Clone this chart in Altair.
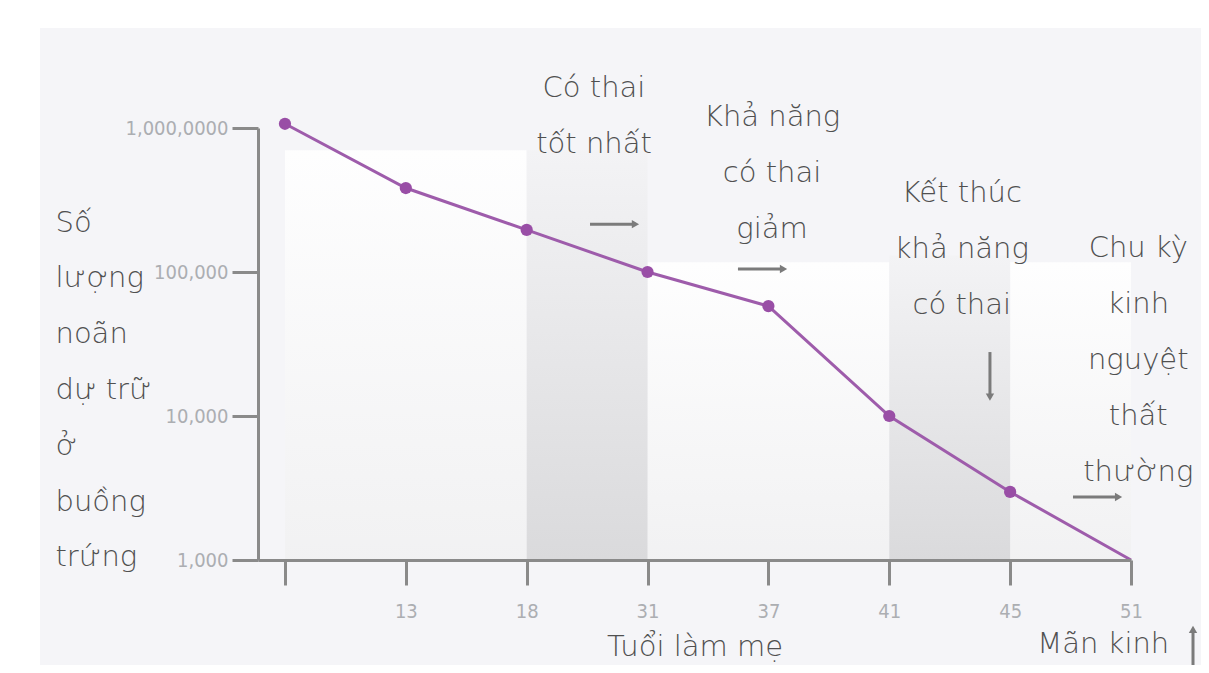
import json
import altair as alt
import pandas as pd

# ---------------- data ----------------
age_labels = ["", "13", "18", "31", "37", "41", "45", "51"]
age_index = [0, 1, 2, 3, 4, 5, 6, 7]
oocytes = [1070000, 383000, 196000, 100000, 58000, 10000, 2970, 1000]
has_dot = [True, True, True, True, True, True, True, False]

y_tick_values = [1000, 10000, 100000, 1000000]
y_tick_labels = ["1,000", "10,000", "100,000", "1,000,0000"]

band_start = [0, 2, 3, 5, 6]
band_end = [2, 3, 5, 6, 7]
band_top = [700000, 700000, 117000, 130000, 117000]
band_kind = ["light", "dark", "light", "dark", "light"]

ann_text = ["Có thai\ntốt nhất", "Khả năng\ncó thai\ngiảm",
            "Kết thúc\nkhả năng\ncó thai", "Chu kỳ\nkinh\nnguyệt\nthất\nthường",
            "Mãn kinh"]
ann_x = [2.557, 4.03, 5.6, 7.06, 6.77]
ann_y = [1895000, 1192000, 354000, 146800, 262]

arrow_x1 = [2.524, 3.748, 6.52, 5.833, 7.513]
arrow_x2 = [2.900, 4.125, 6.897, 5.833, 7.513]
arrow_y1 = [215000, 105000, 2740, 27800, 170]
arrow_y2 = [215000, 105000, 2740, 13500, 330]
arrow_head = ["triangle-right", "triangle-right", "triangle-right", "triangle-down", "triangle-up"]

y_title = ["Số", "lượng", "noãn", "dự trữ", "ở", "buồng", "trứng"]
x_title = "Tuổi làm mẹ"

# ---------------- frames ----------------
line_df = pd.DataFrame({"idx": age_index, "val": oocytes, "dot": has_dot})
band_df = pd.DataFrame({"x0": band_start, "x1": band_end, "top": band_top,
                        "bottom": [1000] * len(band_start), "kind": band_kind})
ann_df = pd.DataFrame({"t": ann_text, "idx": ann_x, "val": ann_y})
arrow_df = pd.DataFrame({"x1": arrow_x1, "x2": arrow_x2, "y1": arrow_y1,
                         "y2": arrow_y2, "head": arrow_head})

TEXT_FONT = "DejaVu Sans"
TEXT_WEIGHT = 200
TICK_FONT = "DejaVu Sans Condensed"
TEXT_COLOR = "#505050"
AXIS_COLOR = "#8a8a8a"

x_scale = alt.Scale(domain=[-0.223, 7], nice=False, zero=False)
y_scale = alt.Scale(type="log", domain=[1000, 1000000], nice=False)

x_label_expr = json.dumps(age_labels) + "[datum.value]"
y_label_expr = " : ".join(f"datum.value == {v} ? '{l}'" for v, l in zip(y_tick_values, y_tick_labels)) + " : ''"

x_axis = alt.Axis(values=age_index, labelExpr=x_label_expr, title=x_title,
                  grid=False, tickSize=25, labelPadding=16, titleY=95,
                  titleBaseline="alphabetic", domainWidth=3, tickWidth=3,
                  labelFontSize=20, labelFont=TICK_FONT, labelColor="#acaeb2",
                  titleFontSize=29, titleFont=TEXT_FONT, titleFontWeight=TEXT_WEIGHT,
                  titleColor=TEXT_COLOR, domainColor=AXIS_COLOR, tickColor=AXIS_COLOR,
                  labelFlush=False, labelOverlap=False, zindex=2)
y_axis = alt.Axis(values=y_tick_values, labelExpr=y_label_expr, title=y_title,
                  grid=False, tickSize=26, labelPadding=4, domainWidth=3, tickWidth=3,
                  labelFontSize=20, labelFont=TICK_FONT, labelColor="#acaeb2",
                  titleFontSize=29, titleFont=TEXT_FONT, titleFontWeight=TEXT_WEIGHT,
                  titleColor=TEXT_COLOR, titleAngle=0, titleAlign="left",
                  titleBaseline="middle", titleX=-203, titleY=94,
                  titleLineHeight=55.8, domainColor=AXIS_COLOR, tickColor=AXIS_COLOR,
                  labelFlush=False, labelOverlap=False, zindex=2)


def X(field):
    return alt.X(f"{field}:Q", scale=x_scale, axis=x_axis)


def Y(field):
    return alt.Y(f"{field}:Q", scale=y_scale, axis=y_axis)


panel = alt.Chart(alt.Data(values=[{}])).mark_rect(color="#f5f5f8").encode(
    x=alt.value(-218), x2=alt.value(960), y=alt.value(-100), y2=alt.value(560)
)

light_grad = alt.Gradient(gradient="linear", x1=0, x2=0, y1=0, y2=1,
                          stops=[alt.GradientStop(color="#ffffff", offset=0),
                                 alt.GradientStop(color="#f1f1f2", offset=1)])
dark_grad = alt.Gradient(gradient="linear", x1=0, x2=0, y1=0, y2=1,
                         stops=[alt.GradientStop(color="#f3f3f5", offset=0),
                                alt.GradientStop(color="#dadadc", offset=1)])

bands_light = alt.Chart(band_df).transform_filter("datum.kind == 'light'").mark_rect(
    color=light_grad, opacity=0.9).encode(
    x=X("x0"), x2="x1", y=Y("top"), y2="bottom")
bands_dark = alt.Chart(band_df).transform_filter("datum.kind == 'dark'").mark_rect(
    color=dark_grad).encode(
    x=X("x0"), x2="x1", y=Y("top"), y2="bottom")

line = alt.Chart(line_df).mark_line(color="#9e5cab", strokeWidth=3).encode(
    x=X("idx"), y=Y("val"))
dots = alt.Chart(line_df).transform_filter("datum.dot").mark_circle(
    color="#994ea6", size=150, opacity=1).encode(x=X("idx"), y=Y("val"))

annotations = alt.Chart(ann_df).mark_text(
    font=TEXT_FONT, fontSize=29, fontWeight=TEXT_WEIGHT, color=TEXT_COLOR,
    lineBreak="\n", lineHeight=56, align="center", baseline="middle").encode(
    x=X("idx"), y=Y("val"), text="t:N")

arrows = alt.Chart(arrow_df).mark_rule(color="#7b7b7b", strokeWidth=3).encode(
    x=X("x1"), x2="x2", y=Y("y1"), y2="y2")
heads = alt.Chart(arrow_df).mark_point(filled=True, color="#7b7b7b", size=70, opacity=1).encode(
    x=X("x2"), y=Y("y2"), shape=alt.Shape("head:N", scale=None))

chart = alt.layer(panel, bands_light, bands_dark, line, dots, arrows, heads, annotations).properties(
    width=873, height=432,
    padding={"left": 250, "top": 120, "right": 70, "bottom": 105},
    autosize=alt.AutoSizeParams(type="none"),
    background="white",
).configure_view(stroke=None)

chart.save("out.html", embed_options={"renderer": "svg", "actions": False})
